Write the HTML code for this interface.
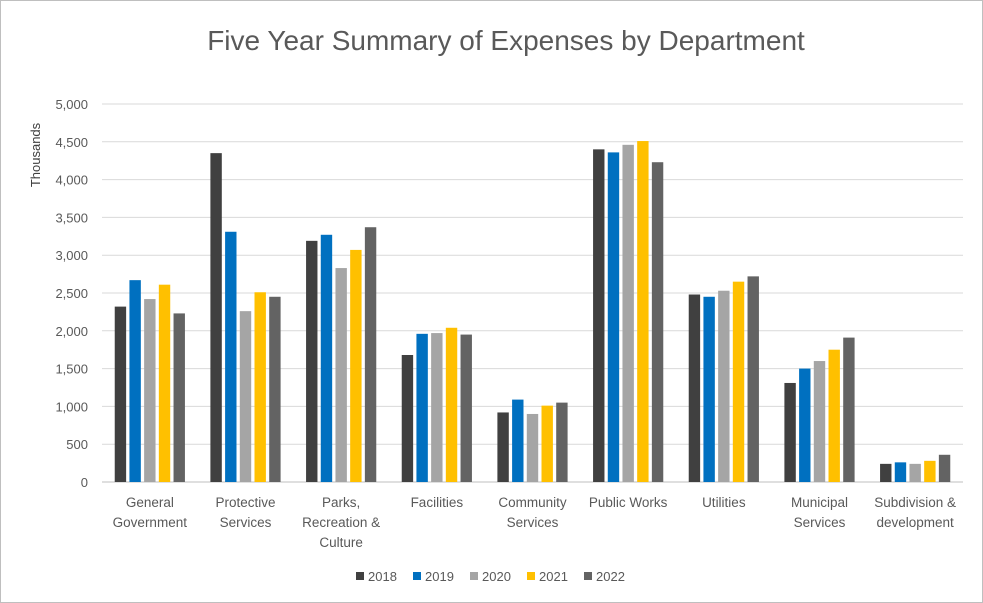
<!DOCTYPE html>
<html><head><meta charset="utf-8"><style>
body{margin:0;background:#fff}
svg{display:block;font-family:"Liberation Sans",sans-serif}
</style></head><body>
<svg id="c" width="983" height="603">
<rect x="0.5" y="0.5" width="982" height="602" fill="#fff" stroke="#bfbfbf"/>
<text x="506" y="50" text-anchor="middle" font-size="28" fill="#595959">Five Year Summary of Expenses by Department</text>
<text transform="translate(40,155) rotate(-90)" text-anchor="middle" font-size="13" fill="#404040">Thousands</text>
<g id="grid"></g><g id="bars"></g><g id="xl"></g><g id="leg"></g>
</svg>
<script>
const categories=[["General","Government"],["Protective","Services"],["Parks,","Recreation &","Culture"],["Facilities"],["Community","Services"],["Public Works"],["Utilities"],["Municipal","Services"],["Subdivision &","development"]];
const years=["2018","2019","2020","2021","2022"];
const colors=["#404040","#0070c0","#a5a5a5","#ffc000","#636363"];
const v2018=[2320,4350,3190,1680,920,4400,2480,1310,240];
const v2019=[2670,3310,3270,1960,1090,4360,2450,1500,260];
const v2020=[2420,2260,2830,1970,900,4460,2530,1600,240];
const v2021=[2610,2510,3070,2040,1010,4510,2650,1750,280];
const v2022=[2230,2450,3370,1950,1050,4230,2720,1910,360];
const yTicks=[0,500,1000,1500,2000,2500,3000,3500,4000,4500,5000];
const series=[v2018,v2019,v2020,v2021,v2022];
const NS="http://www.w3.org/2000/svg";
const x0=102,x1=963,y0=482,yTop=104,yMax=5000;
const cw=(x1-x0)/categories.length;
const y=v=>y0-(v/yMax)*(y0-yTop);
function mk(t,a,p){const e=document.createElementNS(NS,t);for(const k in a)e.setAttribute(k,a[k]);p.appendChild(e);return e;}
const grid=document.getElementById('grid');
yTicks.forEach(t=>{
 const l=mk('line',{x1:x0,x2:x1,y1:y(t),y2:y(t),stroke:t===0?'#bfbfbf':'#d9d9d9','stroke-width':1},grid);
 
 
 const tx=mk('text',{x:88,y:y(t)+5,'text-anchor':'end','font-size':13,fill:'#595959'},grid);
 tx.textContent=t.toLocaleString('en-US');
 
 
});
const bars=document.getElementById('bars');
const bw=11.4,pitch=14.7,gw=bw+pitch*4;
categories.forEach((c,i)=>{
 const start=x0+i*cw+(cw-gw)/2;
 series.forEach((s,j)=>{
  const r=mk('rect',{x:start+j*pitch,y:y(s[i]),width:bw,height:y0-y(s[i]),fill:colors[j]},bars);
  
  
 });
 const t=mk('text',{'text-anchor':'middle','font-size':13.5,fill:'#595959'},document.getElementById('xl'));
 
 
 c.forEach((line,k)=>{const ts=mk('tspan',{x:x0+i*cw+cw/2,y:507+k*20},t);ts.textContent=line;});
});
const leg=document.getElementById('leg');
years.forEach((yr,j)=>{
 const gx=356+j*57;
 const g=mk('g',{},leg);
 
 
 mk('rect',{x:gx,y:572,width:8,height:8,fill:colors[j]},g);
 const t=mk('text',{x:gx+12,y:581,'font-size':13,fill:'#595959'},g);t.textContent=yr;
});
</script>
</body></html>
